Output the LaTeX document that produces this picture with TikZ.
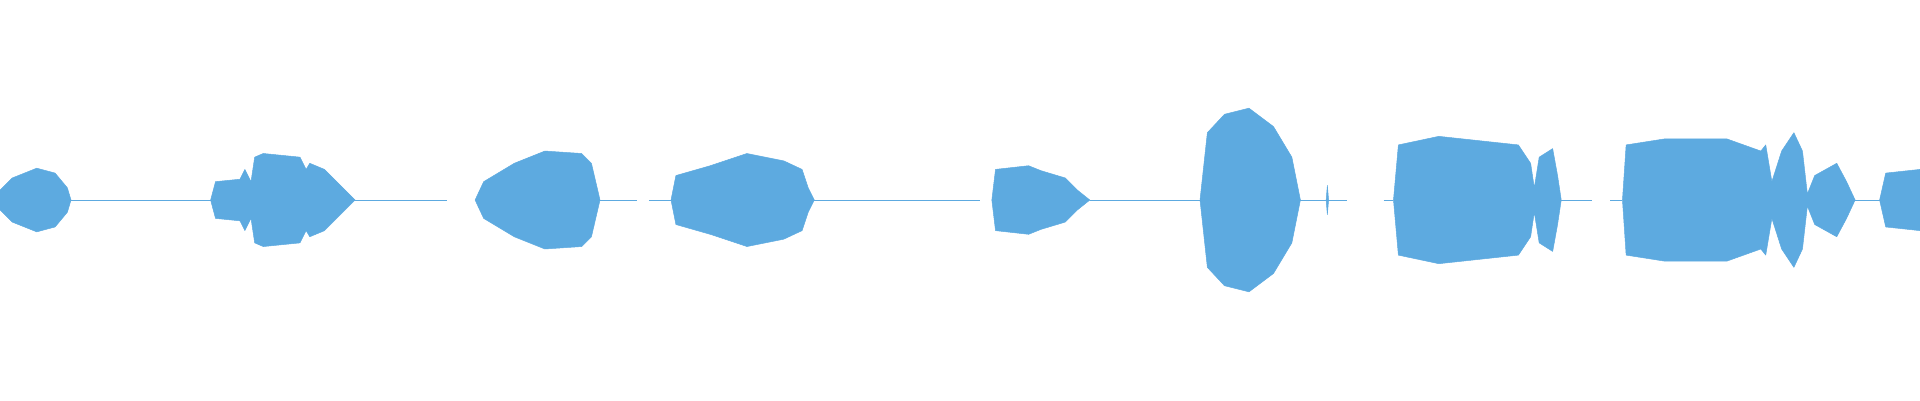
\documentclass[tikz,border=0pt]{standalone}
\definecolor{wave}{HTML}{5DAAE0}
\tikzset{wv/.style={fill=wave,draw=wave,line width=0.4pt,line join=round}}
\newcommand\wavepart[1]{\fill[wv] plot coordinates {#1}; \fill[wv,yscale=-1] plot coordinates {#1};}
\begin{document}
\begin{tikzpicture}[x=1pt,y=1pt]
\useasboundingbox (0,-163.35) rectangle (1568,163.35);
\foreach \a/\b in {58/365,490/520,530/548,665/800,890/980,1062/1100,1130/1138,1275/1300,1315/1325,1515/1535}
  \draw[wave,line width=0.6pt] (\a,0) -- (\b,0);
\wavepart{(0,0) (0,8) (10,18) (30,26) (45,22) (55,10) (58,0)}
\wavepart{(172,0) (176,15) (196,17) (200,25) (205,15) (208,35) (215,38) (245,35) (250,25) (253,30) (265,25) (280,10) (290,0)}
\wavepart{(388,0) (395,15) (420,30) (445,40) (475,38) (483,30) (490,0)}
\wavepart{(548,0) (552,20) (580,28) (610,38) (640,32) (655,25) (660,10) (665,0)}
\wavepart{(810,0) (813,25) (840,28) (850,24) (870,18) (880,8) (890,0)}
\wavepart{(980,0) (986,55) (1000,70) (1020,75) (1040,60) (1055,35) (1062,0)}
\wavepart{(1083,0) (1084,12) (1085,0)}
\wavepart{(1138,0) (1142,45) (1175,52) (1240,45) (1250,30) (1253,10) (1257,35) (1268,42) (1272,20) (1275,0)}
\wavepart{(1325,0) (1328,45) (1360,50) (1410,50) (1438,40) (1442,45) (1447,15) (1455,40) (1465,55) (1472,40) (1476,5) (1482,20) (1500,30) (1508,15) (1515,0)}
\wavepart{(1535,0) (1540,22) (1568,25) (1568,0)}
\end{tikzpicture}
\end{document}
